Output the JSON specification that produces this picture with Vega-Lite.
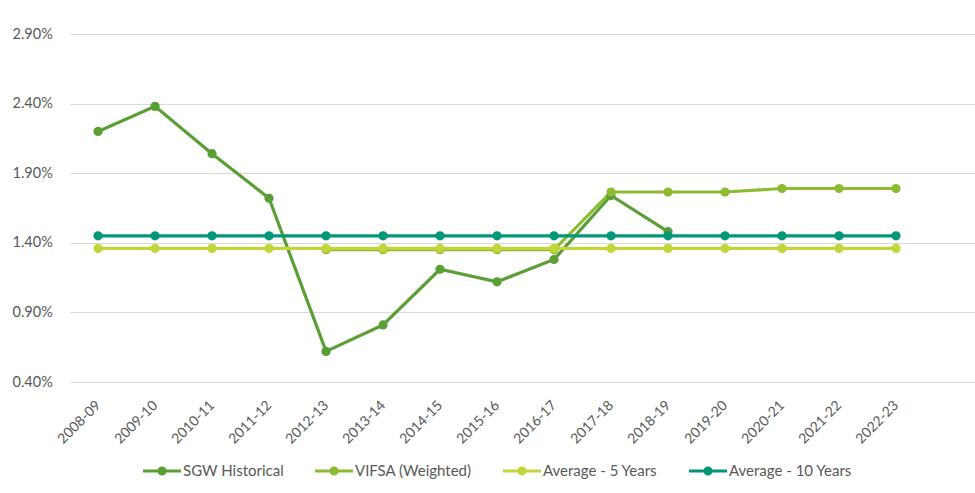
{
  "$schema": "https://vega.github.io/schema/vega-lite/v6.json",
  "autosize": "none",
  "width": 905,
  "height": 348,
  "padding": {"left": 70, "top": 34, "right": 0, "bottom": 111},
  "background": "white",
  "config": {
    "view": {"stroke": null},
    "font": "Lato",
    "legend": {"padding": 0}
  },
  "data": {
    "values": [
      {"series": "SGW Historical", "year": "2008-09", "value": 0.0220},
      {"series": "SGW Historical", "year": "2009-10", "value": 0.0238},
      {"series": "SGW Historical", "year": "2010-11", "value": 0.0204},
      {"series": "SGW Historical", "year": "2011-12", "value": 0.0172},
      {"series": "SGW Historical", "year": "2012-13", "value": 0.0062},
      {"series": "SGW Historical", "year": "2013-14", "value": 0.0081},
      {"series": "SGW Historical", "year": "2014-15", "value": 0.0121},
      {"series": "SGW Historical", "year": "2015-16", "value": 0.0112},
      {"series": "SGW Historical", "year": "2016-17", "value": 0.0128},
      {"series": "SGW Historical", "year": "2017-18", "value": 0.0174},
      {"series": "SGW Historical", "year": "2018-19", "value": 0.0148},
      {"series": "VIFSA (Weighted)", "year": "2012-13", "value": 0.0135},
      {"series": "VIFSA (Weighted)", "year": "2013-14", "value": 0.0135},
      {"series": "VIFSA (Weighted)", "year": "2014-15", "value": 0.0135},
      {"series": "VIFSA (Weighted)", "year": "2015-16", "value": 0.0135},
      {"series": "VIFSA (Weighted)", "year": "2016-17", "value": 0.0135},
      {"series": "VIFSA (Weighted)", "year": "2017-18", "value": 0.01765},
      {"series": "VIFSA (Weighted)", "year": "2018-19", "value": 0.01765},
      {"series": "VIFSA (Weighted)", "year": "2019-20", "value": 0.01765},
      {"series": "VIFSA (Weighted)", "year": "2020-21", "value": 0.0179},
      {"series": "VIFSA (Weighted)", "year": "2021-22", "value": 0.0179},
      {"series": "VIFSA (Weighted)", "year": "2022-23", "value": 0.0179},
      {"series": "Average - 5 Years", "year": "2008-09", "value": 0.0136},
      {"series": "Average - 5 Years", "year": "2009-10", "value": 0.0136},
      {"series": "Average - 5 Years", "year": "2010-11", "value": 0.0136},
      {"series": "Average - 5 Years", "year": "2011-12", "value": 0.0136},
      {"series": "Average - 5 Years", "year": "2012-13", "value": 0.0136},
      {"series": "Average - 5 Years", "year": "2013-14", "value": 0.0136},
      {"series": "Average - 5 Years", "year": "2014-15", "value": 0.0136},
      {"series": "Average - 5 Years", "year": "2015-16", "value": 0.0136},
      {"series": "Average - 5 Years", "year": "2016-17", "value": 0.0136},
      {"series": "Average - 5 Years", "year": "2017-18", "value": 0.0136},
      {"series": "Average - 5 Years", "year": "2018-19", "value": 0.0136},
      {"series": "Average - 5 Years", "year": "2019-20", "value": 0.0136},
      {"series": "Average - 5 Years", "year": "2020-21", "value": 0.0136},
      {"series": "Average - 5 Years", "year": "2021-22", "value": 0.0136},
      {"series": "Average - 5 Years", "year": "2022-23", "value": 0.0136},
      {"series": "Average - 10 Years", "year": "2008-09", "value": 0.0145},
      {"series": "Average - 10 Years", "year": "2009-10", "value": 0.0145},
      {"series": "Average - 10 Years", "year": "2010-11", "value": 0.0145},
      {"series": "Average - 10 Years", "year": "2011-12", "value": 0.0145},
      {"series": "Average - 10 Years", "year": "2012-13", "value": 0.0145},
      {"series": "Average - 10 Years", "year": "2013-14", "value": 0.0145},
      {"series": "Average - 10 Years", "year": "2014-15", "value": 0.0145},
      {"series": "Average - 10 Years", "year": "2015-16", "value": 0.0145},
      {"series": "Average - 10 Years", "year": "2016-17", "value": 0.0145},
      {"series": "Average - 10 Years", "year": "2017-18", "value": 0.0145},
      {"series": "Average - 10 Years", "year": "2018-19", "value": 0.0145},
      {"series": "Average - 10 Years", "year": "2019-20", "value": 0.0145},
      {"series": "Average - 10 Years", "year": "2020-21", "value": 0.0145},
      {"series": "Average - 10 Years", "year": "2021-22", "value": 0.0145},
      {"series": "Average - 10 Years", "year": "2022-23", "value": 0.0145}
    ]
  },
  "mark": {
    "type": "line",
    "strokeWidth": 3.2,
    "point": {"filled": true, "size": 85, "opacity": 1}
  },
  "encoding": {
    "x": {
      "field": "year",
      "type": "nominal",
      "sort": null,
      "scale": {"type": "point", "padding": 0.939, "align": 0.262},
      "axis": {
        "title": null,
        "domain": false,
        "ticks": false,
        "grid": false,
        "labelAngle": -45,
        "labelAlign": "right",
        "labelBaseline": "middle",
        "labelPadding": 21,
        "labelFontSize": 14,
        "labelColor": "#595959",
        "labelFont": "Lato"
      }
    },
    "y": {
      "field": "value",
      "type": "quantitative",
      "scale": {"domain": [0.004, 0.029], "nice": false, "zero": false},
      "axis": {
        "title": null,
        "values": [0.004, 0.009, 0.014, 0.019, 0.024, 0.029],
        "format": ".2%",
        "domain": false,
        "ticks": false,
        "grid": true,
        "gridColor": "#d9d9d9",
        "gridWidth": 1,
        "labelAlign": "left",
        "labelPadding": 58,
        "labelFontSize": 14.5,
        "labelColor": "#595959",
        "labelFont": "Lato"
      }
    },
    "color": {
      "field": "series",
      "type": "nominal",
      "sort": ["SGW Historical", "VIFSA (Weighted)", "Average - 5 Years", "Average - 10 Years"],
      "scale": {
        "domain": ["SGW Historical", "VIFSA (Weighted)", "Average - 5 Years", "Average - 10 Years"],
        "range": ["#5a9f35", "#8cbb33", "#c4d53c", "#009877"]
      },
      "legend": {
        "title": null,
        "orient": "none",
        "direction": "horizontal",
        "columns": 4,
        "legendX": 73,
        "legendY": 418,
        "symbolType": "M-1,-0.08 L1,-0.08 L1,0.08 L-1,0.08 Z M-0.24,0 A0.24,0.24 0 1,1 0.24,0 A0.24,0.24 0 1,1 -0.24,0 Z",
        "symbolSize": 1444,
        "symbolStrokeWidth": 0,
        "labelFontSize": 15,
        "labelColor": "#595959",
        "labelFont": "Lato",
        "labelOffset": 2,
        "columnPadding": 31,
        "encode": {
          "symbols": {"update": {"fill": {"scale": "color", "field": "value"}, "opacity": {"value": 1}}}
        }
      }
    }
  }
}
